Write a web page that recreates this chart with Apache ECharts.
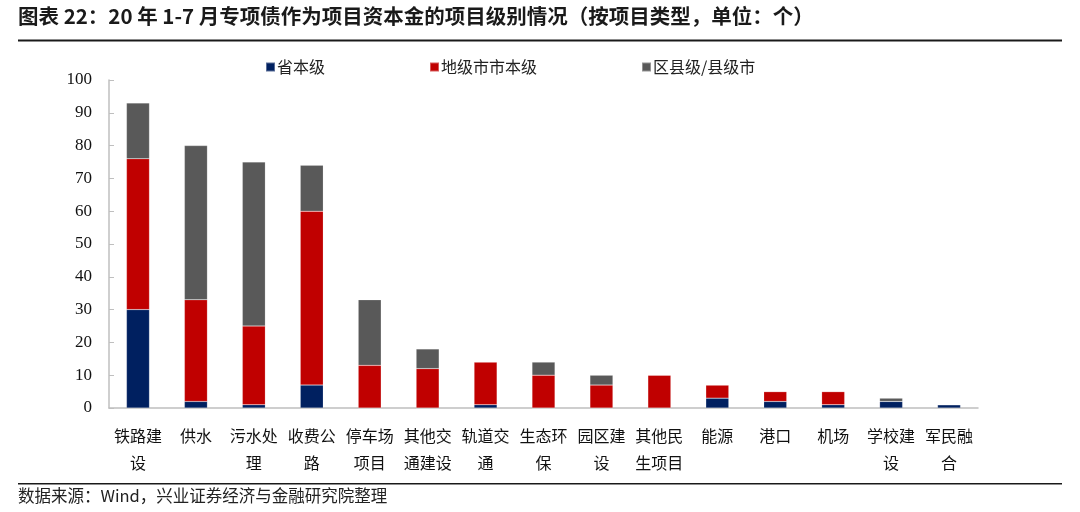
<!DOCTYPE html>
<html>
<head>
<meta charset="utf-8">
<script src="https://cdn.jsdelivr.net/npm/echarts@6/dist/echarts.min.js"></script>
<style>html,body{margin:0;padding:0;background:#fff}#c{width:1080px;height:512px}</style>
</head>
<body>
<div id="c"></div>
<script>
const categories = ['铁路建设','供水','污水处理','收费公路','停车场项目','其他交通建设','轨道交通','生态环保','园区建设','其他民生项目','能源','港口','机场','学校建设','军民融合'];
const provincial = [30, 2, 1, 7, 0, 0, 1, 0, 0, 0, 3, 2, 1, 2, 1];
const prefecture = [46, 31, 24, 53, 13, 12, 13, 10, 7, 10, 4, 3, 4, 0, 0];
const county = [17, 47, 50, 14, 20, 6, 0, 4, 3, 0, 0, 0, 0, 1, 0];
const seriesNames = ['省本级', '地级市市本级', '区县级/县级市'];
const yTicks = [0, 10, 20, 30, 40, 50, 60, 70, 80, 90, 100];
const titleText = '图表 22：20 年 1-7 月专项债作为项目资本金的项目级别情况（按项目类型，单位：个）';
const sourceText = '数据来源：Wind，兴业证券经济与金融研究院整理';

const chart = echarts.init(document.getElementById('c'));
const cjk = 'Noto Sans CJK SC';
const colors = ['#002060', '#C00000', '#595959'];
const mk = (name, data, i) => ({
  name, type: 'bar', stack: 'total', data, barWidth: 23,
  itemStyle: { color: colors[i], borderColor: 'rgba(255,255,255,0.35)', borderWidth: 0.5 },
  emphasis: { disabled: true }
});
chart.setOption({
  animation: false,
  textStyle: { fontFamily: cjk },
  grid: { left: 109, right: 102, top: 80, bottom: 104 },
  legend: {
    left: 260, top: 54, itemWidth: 9, itemHeight: 9, itemGap: 104,
    icon: 'rect',
    textStyle: { fontSize: 16, color: '#222', fontFamily: cjk, padding: [0,0,0,-3] },
    data: seriesNames
  },
  xAxis: {
    type: 'category', data: categories,
    axisLine: { lineStyle: { color: '#bfbfbf', width: 1.5 } },
    axisTick: { inside: true, length: 5, lineStyle: { color: '#bfbfbf' } },
    axisLabel: {
      interval: 0, margin: 14, fontSize: 16, color: '#111', lineHeight: 27, fontFamily: cjk,
      formatter: v => v.length > 3 ? v.slice(0,3) + '\n' + v.slice(3) : v
    }
  },
  yAxis: {
    type: 'value', min: yTicks[0], max: yTicks[yTicks.length-1], interval: 10,
    axisLine: { show: true, lineStyle: { color: '#bfbfbf', width: 1.5 } },
    axisTick: { show: true, inside: true, length: 5, lineStyle: { color: '#bfbfbf' } },
    splitLine: { show: false },
    axisLabel: { fontSize: 17, color: '#111', fontFamily: 'Liberation Serif', margin: 17 }
  },
  series: [mk(seriesNames[0], provincial, 0), mk(seriesNames[1], prefecture, 1), mk(seriesNames[2], county, 2)],
  graphic: [
    { type: 'text', left: 18, top: 6, style: { text: titleText, font: 'bold 20.5px "Noto Sans CJK SC"', fill: '#1a1a1a' } },
    { type: 'rect', shape: { x: 18, y: 39.5, width: 1044, height: 2 }, style: { fill: '#1a1a1a' } },
    { type: 'rect', shape: { x: 18, y: 483, width: 1044, height: 1.5 }, style: { fill: '#1a1a1a' } },
    { type: 'text', left: 18, top: 487, style: { text: sourceText, font: '16.5px "Noto Sans CJK SC"', fill: '#222' } }
  ]
});
</script>
</body>
</html>
